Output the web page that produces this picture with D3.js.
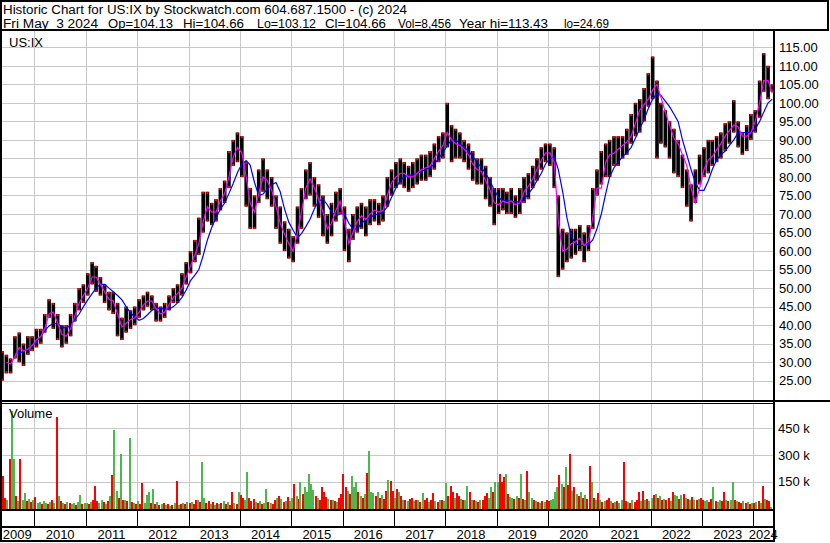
<!DOCTYPE html>
<html><head><meta charset="utf-8">
<script src="https://cdn.jsdelivr.net/npm/d3@7/dist/d3.min.js"></script>
<style>
html,body{margin:0;padding:0;background:#fff;}
svg{display:block;font-family:"Liberation Sans",Arial,sans-serif;}
</style></head><body>
<svg id="c" width="830" height="543"></svg>
<script>
// ---- data (monthly from May 2009) ----
const firstMonth = [2009, 4]; // year, zero-based month (May)
const priceLow = [
  25,27,27,31,30,29,32,33,
  34,35,38,42,39,36,34,35,37,41,44,46,
  48,51,49,48,46,44,43,37,36,38,39,40,
  42,44,45,44,41,41,42,44,46,46,48,51,
  54,57,59,65,68,67,68,71,73,77,83,84,
  80,72,66,66,73,76,74,72,66,62,60,58,
  57,62,66,74,75,72,69,64,62,64,68,70,
  60,57,63,65,66,64,67,68,67,68,72,75,
  77,78,77,76,77,78,79,79,80,82,84,85,
  88,84,85,85,84,82,79,78,78,74,72,67,
  70,71,70,70,69,70,73,74,77,79,82,84,
  83,77,53,55,57,58,59,60,57,60,66,75,
  78,80,80,83,83,85,86,89,91,92,95,99,
  101,85,89,88,85,81,80,77,72,68,73,78,
  80,81,83,84,85,87,89,92,88,86,87,90,
  92,96,103,101,103
];
const priceHigh = [
  33,32,31,37,38,35,37,37,
  39,39,43,47,46,43,40,40,43,46,50,51,
  54,57,56,53,51,49,49,46,42,45,44,45,
  47,48,49,48,46,45,46,48,50,51,54,57,
  60,63,69,76,76,73,74,77,79,87,90,92,
  91,84,77,75,82,85,82,80,75,72,68,66,
  64,72,77,82,84,80,78,75,70,73,76,77,
  72,66,70,72,73,72,74,74,73,75,80,82,
  84,85,84,83,84,85,86,86,87,89,91,92,
  100,94,93,92,90,89,87,85,85,83,80,77,
  77,77,76,77,75,77,80,81,83,85,88,89,
  89,88,75,66,65,66,66,67,65,67,77,82,
  87,89,90,91,91,91,93,97,100,101,104,108,
  112.5,106,100,98,95,93,90,86,82,78,82,86,
  88,90,90,91,92,94.5,95,100.7,95,92,94,97,
  98,106,113.4,110,105
];
const maShort = [
  null,30,29.5,31.5,34,33,33.5,34.5,
  36,37,39,43,43.5,40.5,37.5,37,39,42.5,46,48,
  50,53,53,51,49,47,46.5,43,39.5,40.5,41.5,42,
  43.5,45.5,46.5,46.5,44.5,43,43.5,45.5,47.5,48.5,50,53,
  56,59,62,68,72,70.5,70.5,73.5,75.5,80,85.5,88,
  86.5,80,73,70.5,75.5,80,79,76.5,72,67.5,64.5,62,
  60,65,70.5,77,79.5,77,74,70.5,66,67.5,71,73.5,
  68,62,65,68,69.5,68.5,70,71,70.5,71,75,78.5,
  80,81,81,80,80,81,82,82.5,83,85,87,88.5,
  92,90,89,88.5,87.5,86,83.5,82,81.5,79,76.5,73,
  72.5,73.5,73,73.5,72.5,73,76,77.5,79.5,82,84.5,86.5,
  86.5,84,68,60,60.5,62,62.5,63.5,61.5,62.5,69,77,
  77,84,86,86.4,87.5,88.5,89.5,91,94.5,98,99.5,101,
  103.5,105,101.5,97.5,94,90.5,89,86,83,77,73,77,
  82,84.6,85.5,87.3,89,91,92.5,94,93.5,91,91,92,
  95,100,106,106,102.6
];
const maLong = [
  null,null,null,32.4,32.6,32.8,33.7,34.5,
  35.4,37,38.5,39.8,40.5,40.3,39.6,39.1,40,41.5,43,45,
  46.8,48.5,50,51,51,50,49,48,46.8,45,43.3,42.2,
  41.3,41.8,42.8,44,44.5,44.5,44.3,44.3,45,46,47.5,49.5,
  52,53.5,55,58.8,63,66.4,69,71.3,73,75.5,78.3,81.2,
  83.5,84.4,83.2,78.5,75,75.4,76.7,77.9,78.5,76,71.3,67.8,
  65.6,63.6,64.7,66.6,68.6,71.4,73.5,74,72.5,70.5,69.5,70,
  70,67.5,66,66,67.5,68.5,69,69.8,70,70.5,72,74.5,
  77,79,80,80.5,80.5,81,81.5,82,82.5,83.5,85,86.5,
  88.5,90,90,89,88,87,85.5,84,82.5,81,79,76.5,
  74.5,73.5,73.5,73.5,73.3,73.3,74,75.5,77,79,81,83.5,
  85,85.5,82,76,69,64,62,61.5,61.5,61.8,63,66,
  70,75.5,80,82.5,84,85.5,86.5,88,90.5,93,95.5,98.5,
  101,102.5,102,100.5,99,97,95,90,86,82,78.5,76.4,
  76.4,79,82,84.6,86,87,88.5,90,92,92,92,92,
  93,95,97.5,100,101
];
// volume, thousands, two readings per month from May 2009
const volume = [
  60,183,60,45,280,545,280,70,40,280,50,88,40,55,35,45,
  67,30,35,25,40,30,25,35,45,30,516,70,40,30,25,35,30,25,30,20,35,75,25,30,
  30,25,35,45,126,40,30,45,35,25,40,70,190,440,100,60,303,50,45,40,393,35,30,25,
  40,25,145,30,75,91,30,108,25,35,20,25,30,20,25,15,20,30,154,20,25,30,25,35,
  30,35,25,45,50,35,263,60,30,40,25,35,20,30,25,30,40,25,35,20,95,30,25,90,
  73,60,50,206,60,40,55,35,30,40,25,30,110,35,30,25,45,60,70,55,35,40,65,40,
  60,135,70,55,146,80,123,90,194,140,101,70,60,50,119,90,67,55,45,50,40,35,60,80,
  192,119,100,80,183,123,146,90,70,60,80,200,320,95,85,70,95,60,75,55,100,160,154,100,
  60,107,90,70,50,45,40,55,60,40,45,50,35,86,45,60,35,50,86,40,35,45,50,40,
  143,70,125,90,60,85,70,55,50,45,125,95,50,45,40,35,45,50,70,85,60,120,90,148,
  150,192,150,175,192,80,65,60,55,70,60,192,55,45,211,90,60,45,40,35,30,40,35,45,
  40,50,55,90,120,189,140,120,231,130,307,100,120,80,70,95,60,75,55,240,150,60,50,86,
  50,35,40,45,60,40,30,35,40,30,45,263,40,35,30,45,35,50,90,40,100,45,55,40,
  60,75,80,60,70,50,55,45,60,40,95,75,70,55,75,80,60,55,50,65,45,50,55,60,
  50,40,45,35,55,118,40,35,45,40,92,50,40,45,148,50,40,35,30,40,30,35,25,30,
  30,35,40,30,126,55,45,40,8
];
const volDir = (
  "GRRGRGGRGRGGRGRG" +
  "RGGRGGRGRGRGRGRGRGGRGGRG" +
  "GRGRRRGGRGRGRGGRGRGRGRGR" +
  "GRRGGGRGRGRGRGRGRGRGRGRG" +
  "RGRRGRGGRRGRGRGRGRGRRGRG" +
  "RRGGRRRGRGRGGRGRRGRGRGRG" +
  "GRGRGRGGGGGRGRRRRGRGRGRR" +
  "RRGRGGGRGRGRGGGRGRGRRGRR" +
  "GRGRGRGRRGRGRGRRGRRGRGRG" +
  "GRRRGRRGRGGRGRGRGRRRGGRG" +
  "GRRRGRGGRGRGRGRGGRGRGRGR" +
  "RGGGGRGRGRRGRGRGRGRRGRGR" +
  "GRGRRGRGRGGRRGRGRRRGRGRG" +
  "GRGRGRGRRGRGGRGRGRGRGRGR" +
  "RGGRRGRGGRRGRGGRGRRGRGRG" +
  "RGRGRGRRG"
).split("");
const priceTicks = [25,30,35,40,45,50,55,60,65,70,75,80,85,90,95,100,105,110,115];
const volTicks = [150,300,450];
const years = [2009,2010,2011,2012,2013,2014,2015,2016,2017,2018,2019,2020,2021,2022,2023,2024];
const title1 = "Historic Chart for US:IX by Stockwatch.com 604.687.1500 - (c) 2024";
const title2 = ["Fri May  3 2024","Op=104.13","Hi=104.66","Lo=103.12","Cl=104.66","Vol=8,456","Year hi=113.43","lo=24.69"];

// ---- layout ----
const title2X = [3,108,183,257,325,398,459,564];
const title2W = [95,65,61,59,61,53,89,45];
const svg = d3.select("#c");
const L = 2, R = 773, PT = 31, PB = 401, VT = 403.5, VB = 509.5;
const x = d3.scaleTime().domain([new Date(2009,4,15), new Date(2024,4,20)]).range([L, R]);
const y = d3.scaleLinear().domain([25,115]).range([380.7, 47.3]);
const vy = d3.scaleLinear().domain([0,450]).range([508.5, 428.3]);
const grid = "#c8c8c8";

const monthDate = i => new Date(firstMonth[0], firstMonth[1]+i, 15);
const halfDate = i => new Date(firstMonth[0], firstMonth[1]+Math.floor(i/2), i%2 ? 23 : 8);

// grid lines
const gg = svg.append("g").attr("stroke", grid).attr("stroke-width", 1).attr("shape-rendering","crispEdges");
priceTicks.forEach(t => gg.append("line").attr("x1",L).attr("x2",R).attr("y1",Math.round(y(t))+0.5).attr("y2",Math.round(y(t))+0.5));
volTicks.forEach(t => gg.append("line").attr("x1",L).attr("x2",R).attr("y1",Math.round(vy(t))+0.5).attr("y2",Math.round(vy(t))+0.5));
years.slice(1).forEach(yr => {
  const xx = Math.round(x(new Date(yr,0,1)))+0.5;
  gg.append("line").attr("x1",xx).attr("x2",xx).attr("y1",PT).attr("y2",PB);
  gg.append("line").attr("x1",xx).attr("x2",xx).attr("y1",VT).attr("y2",VB);
});

// volume bars
const vg = svg.append("g").attr("shape-rendering","crispEdges");
volume.forEach((v,i) => {
  const xx = Math.round(x(halfDate(i)));
  vg.append("rect").attr("x", xx-1).attr("width",2)
    .attr("y", vy(v)).attr("height", VB - vy(v))
    .attr("fill", volDir[i]==="G" ? "#4cb84c" : "#ff0000");
});

// price bars
svg.append("clipPath").attr("id","pc").append("rect").attr("x",L).attr("y",PT).attr("width",R-L).attr("height",PB-PT);
const pg = svg.append("g").attr("clip-path","url(#pc)");
priceLow.forEach((lo,i) => {
  const hi = priceHigh[i];
  const xx = x(monthDate(i));
  pg.append("rect").attr("x", xx-1.8).attr("width",3.6).attr("y", y(hi)).attr("height", y(lo)-y(hi)).attr("fill","#000");
  pg.append("rect").attr("x", xx-1).attr("width",2).attr("y", y(hi)).attr("height",2).attr("fill","#ff0000");
  pg.append("rect").attr("x", xx-1).attr("width",2).attr("y", y(lo)-2).attr("height",2).attr("fill","#ff0000");
});
const line = d3.line().defined(d => d[1]!=null).x(d => x(d[0])).y(d => y(d[1]));
const lg = svg.append("g").attr("clip-path","url(#pc)");
lg.append("path").datum(maLong.map((v,i)=>[monthDate(i),v])).attr("d", line).attr("fill","none").attr("stroke","#0000ff").attr("stroke-width",1.2);
lg.append("path").datum(maShort.map((v,i)=>[monthDate(i),v])).attr("d", line).attr("fill","none").attr("stroke","#ff00ff").attr("stroke-width",1.2);

// frames
const fg = svg.append("g").attr("stroke","#000").attr("shape-rendering","crispEdges");
fg.append("rect").attr("x",1).attr("y",1).attr("width",827).attr("height",29).attr("fill","none").attr("stroke-width",2);
fg.append("line").attr("x1",1).attr("x2",1).attr("y1",0).attr("y2",542).attr("stroke-width",2);
fg.append("line").attr("x1",774).attr("x2",774).attr("y1",30).attr("y2",542).attr("stroke-width",2);
fg.append("line").attr("x1",0).attr("x2",830).attr("y1",401).attr("y2",401).attr("stroke-width",1.5);
fg.append("line").attr("x1",0).attr("x2",774).attr("y1",403.5).attr("y2",403.5).attr("stroke-width",1.5);
fg.append("line").attr("x1",0).attr("x2",774).attr("y1",510).attr("y2",510).attr("stroke-width",2);
fg.append("line").attr("x1",0).attr("x2",774).attr("y1",527).attr("y2",527).attr("stroke-width",2);
fg.append("line").attr("x1",0).attr("x2",774).attr("y1",541).attr("y2",541).attr("stroke-width",2);
years.slice(1).forEach(yr => {
  const xx = Math.round(x(new Date(yr,0,1)))+0.5;
  fg.append("line").attr("x1",xx).attr("x2",xx).attr("y1",510).attr("y2",527).attr("stroke-width",1.5);
});

// texts
const tg = svg.append("g").attr("font-size","13px").attr("fill","#000");
const hg = svg.append("g").attr("font-size","12px").attr("fill","#000");
hg.append("text").attr("x",3).attr("y",14).attr("textLength",404).attr("lengthAdjust","spacingAndGlyphs").text(title1);
title2.forEach((s,i) => hg.append("text").attr("x",title2X[i]).attr("y",27.5)
  .attr("textLength",title2W[i]).attr("lengthAdjust","spacingAndGlyphs")
  .attr("xml:space","preserve").style("white-space","pre").text(s));
tg.append("text").attr("x",9).attr("y",46.5).text("US:IX");
tg.append("text").attr("x",9).attr("y",418).text("Volume");
priceTicks.forEach(t => tg.append("text").attr("x",779).attr("y",y(t)+4.7).text(t.toFixed(2)));
volTicks.forEach(t => tg.append("text").attr("x",778).attr("y",vy(t)+4.7).text(t+" k"));
years.forEach(yr => {
  const a = Math.max(0, x(new Date(yr,0,1))), b = Math.min(773, x(new Date(yr+1,0,1)));
  tg.append("text").attr("x",(a+b)/2).attr("y",539).attr("text-anchor","middle").text(yr);
});
</script></body></html>
